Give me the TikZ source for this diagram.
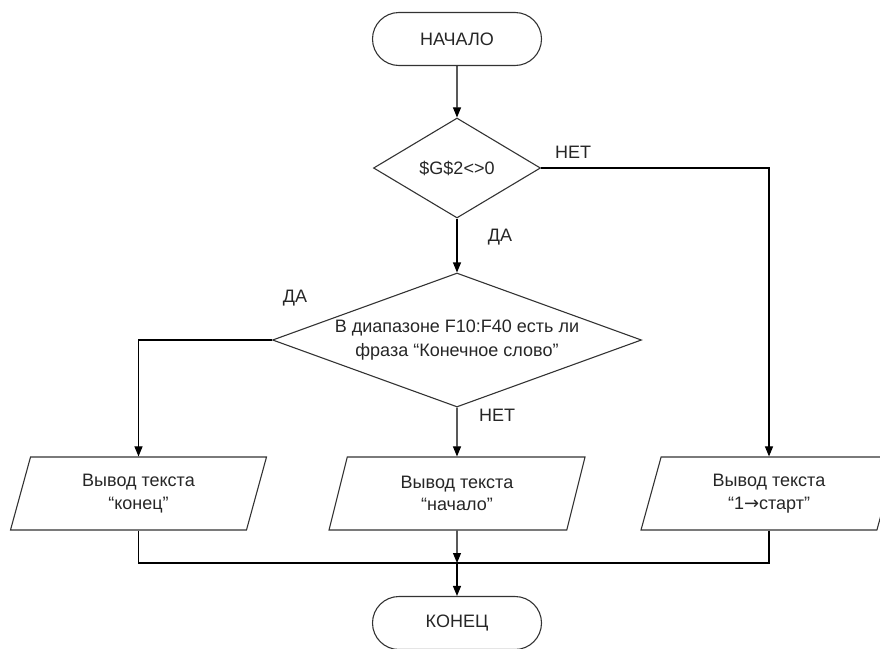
\documentclass[tikz,border=0pt]{standalone}
\usepackage{fontspec}
\setmainfont{Liberation Sans}
\newfontfamily\arrowfont{DejaVu Sans}
\usetikzlibrary{shapes.geometric,shapes.misc,arrows.meta}

\tikzset{
  every node/.style={font=\fontsize{18}{22.5}\selectfont, text=black!85},
  terminal/.style={draw=black!80, line width=1.1pt, rounded rectangle,
    minimum width=169pt, minimum height=53pt, inner sep=0pt},
  decision/.style={draw=black!80, line width=1.1pt, diamond, inner sep=0pt},
  io/.style={draw=black!80, line width=1.1pt, trapezium,
    trapezium left angle=62.5, trapezium right angle=117.5,
    trapezium stretches body, minimum width=256pt, minimum height=73pt,
    align=center, inner sep=0pt},
  flow/.style={line width=1.1pt, -{Triangle[length=10pt,width=8pt]}},
  joinline/.style={line width=1.1pt},
}

\begin{document}
\begin{tikzpicture}
    \useasboundingbox (0pt,0pt) rectangle (880pt,-648pt);
    \node[terminal] (start) at (457pt,-39pt) {НАЧАЛО};
    \node[decision, minimum width=167pt, minimum height=100pt,
      label={center:{\$G\$2<>0}}] (cond1) at (457pt,-168pt) {};
    \node[decision, minimum width=369pt, minimum height=134pt,
      label={[align=center, font=\fontsize{18}{24}\selectfont]center:{В диапазоне F10:F40 есть ли\\фраза “Конечное слово”}}]
      (cond2) at (457pt,-340pt) {};
    \node[io] (out1) at (138.5pt,-493.5pt) {Вывод текста\\“конец”};
    \node[io] (out2) at (457pt,-493.5pt) {Вывод текста\\“начало”};
    \node[io] (out3) at (769pt,-493.5pt) {Вывод текста\\“1{\arrowfont →}старт”};
    \node[terminal] (stop) at (457pt,-623pt) {КОНЕЦ};
    \coordinate (join) at (457pt,-563pt);

    \node (no1) at (573pt,-152pt) {НЕТ};
    \node (yes1) at (500pt,-237pt) {ДА};
    \node (yes2) at (295pt,-298pt) {ДА};
    \node (no2) at (497pt,-415pt) {НЕТ};

    \draw[flow] (start) -- (cond1);
    \draw[flow] (cond1) -- (cond2);
    \draw[flow] (cond1.east) -| (out3.north);
    \draw[flow] (cond2.west) -| (out1.north);
    \draw[flow] (cond2.south) -- (out2.north);
    \draw[joinline] (out1.south) |- (join);
    \draw[joinline] (out3.south) |- (join);
    \draw[flow] (out2.south) -- (join);
    \draw[flow] (join) -- (stop);
\end{tikzpicture}
\end{document}
